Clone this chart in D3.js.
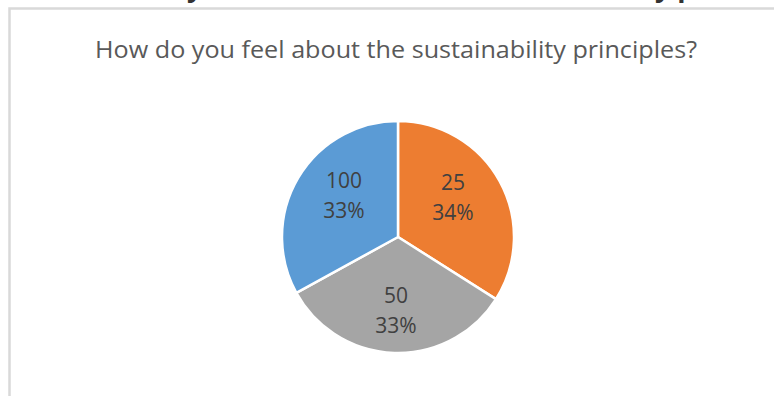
<!DOCTYPE html>
<html>
<head>
<meta charset="utf-8">
<script src="https://cdn.jsdelivr.net/npm/d3@7"></script>
<style>
  html, body { margin: 0; padding: 0; background: #fff; }
  svg { display: block; }
</style>
</head>
<body>
<svg id="chart" width="774" height="396"></svg>
<script>
// Survey answers: category label and share of respondents (%)
const categories = ["25", "50", "100"];
const shares = [34, 33, 33];
const sliceColors = ["#ED7D31", "#A5A5A5", "#5B9BD5"];
const chartTitle = "How do you feel about the sustainability principles?";

const width = 774, height = 396;
const svg = d3.select("#chart");

// Page heading above the chart frame (only its lower edge is in view)
const headingFont = "Open Sans, sans-serif";
svg.append("text")
  .attr("x", 187).attr("y", -3)
  .attr("font-family", headingFont)
  .attr("font-weight", "bold")
  .attr("font-size", 27)
  .attr("fill", "#333")
  .text("y");
svg.append("text")
  .attr("x", 655).attr("y", -3)
  .attr("font-family", headingFont)
  .attr("font-weight", "bold")
  .attr("font-size", 27)
  .attr("fill", "#333")
  .text("y p");

// Chart frame
svg.append("rect")
  .attr("x", 9.5).attr("y", 8.5)
  .attr("width", width + 20).attr("height", height + 20)
  .attr("fill", "#fff")
  .attr("stroke", "#d9d9d9")
  .attr("stroke-width", 2.5);

// Title
svg.append("text")
  .attr("x", 396).attr("y", 58)
  .attr("text-anchor", "middle")
  .attr("font-family", "Open Sans, sans-serif")
  .attr("font-size", 23)
  .attr("fill", "#595959")
  .attr("textLength", 602)
  .attr("lengthAdjust", "spacingAndGlyphs")
  .text(chartTitle);

// Pie
const cx = 398, cy = 237, radius = 116;
const data = categories.map((c, i) => ({ cat: c, value: shares[i], color: sliceColors[i] }));
const pie = d3.pie().value(d => d.value).sort(null);
const arc = d3.arc().innerRadius(0).outerRadius(radius);
const labelArc = d3.arc().innerRadius(radius * 0.66).outerRadius(radius * 0.66);

const g = svg.append("g").attr("transform", `translate(${cx},${cy})`);
const arcs = pie(data);

g.selectAll("path.slice")
  .data(arcs)
  .join("path")
  .attr("class", "slice")
  .attr("d", arc)
  .attr("fill", d => d.data.color)
  .attr("stroke", "#fff")
  .attr("stroke-width", 2.5)
  .attr("stroke-linejoin", "round");

const total = d3.sum(shares);
const labels = g.selectAll("text.lbl")
  .data(arcs)
  .join("text")
  .attr("class", "lbl")
  .attr("transform", d => {
    const [x, y] = labelArc.centroid(d);
    return `translate(${x * 0.82},${y - 6})`;
  })
  .attr("text-anchor", "middle")
  .attr("font-family", "Open Sans, sans-serif")
  .attr("font-size", 21)
  .attr("fill", "#404040");

labels.append("tspan")
  .attr("x", 0).attr("dy", "-0.2em")
  .text(d => d.data.cat);
labels.append("tspan")
  .attr("x", 0).attr("dy", "1.43em")
  .text(d => Math.round(d.data.value / total * 100) + "%");
</script>
</body>
</html>
